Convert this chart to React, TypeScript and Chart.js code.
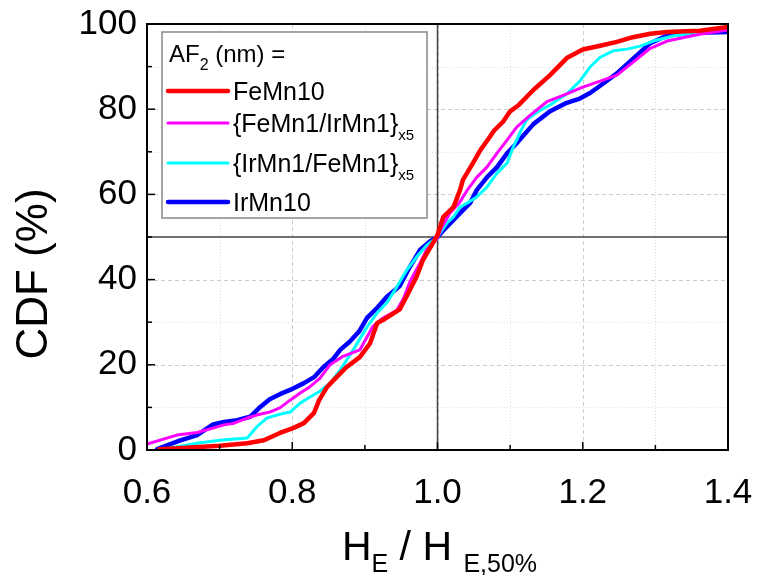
import React, { useEffect, useRef } from 'react';
import { Chart, registerables } from 'chart.js';

Chart.register(...registerables);

// ---------- data ----------
const seriesLabels = ['FeMn10', '{FeMn1/IrMn1}', '{IrMn1/FeMn1}', 'IrMn10'];
const seriesSubs = ['', 'x5', 'x5', ''];
const seriesColors = ['#ff0000', '#ff00ff', '#00ffff', '#0000ff'];
const seriesWidths = [4.5, 3, 3, 4.5];

const feMn10X = [0.617, 0.66, 0.70, 0.738, 0.761, 0.783, 0.802, 0.816, 0.830, 0.837, 0.848, 0.857, 0.875, 0.893, 0.907, 0.917, 0.925, 0.934, 0.948, 0.957, 0.971, 0.980, 0.990, 1.000, 1.008, 1.022, 1.031, 1.035, 1.049, 1.059, 1.070, 1.078, 1.090, 1.100, 1.112, 1.132, 1.155, 1.178, 1.200, 1.224, 1.247, 1.269, 1.293, 1.316, 1.361, 1.400];
const feMn10Y = [0.2, 0.6, 1.0, 1.6, 2.3, 4.0, 5.2, 6.3, 8.7, 11.7, 14.8, 16.4, 19.5, 21.8, 25.0, 29.8, 30.5, 31.5, 33.0, 35.9, 40.6, 44.6, 47.5, 50.5, 54.7, 57.0, 61.0, 63.4, 67.4, 70.4, 73.0, 75.0, 77.0, 79.5, 81.0, 84.5, 88.0, 92.0, 94.0, 94.9, 95.8, 96.9, 97.7, 98.1, 98.4, 99.3];

const feIrX = [0.600, 0.641, 0.669, 0.692, 0.706, 0.720, 0.738, 0.751, 0.769, 0.783, 0.797, 0.811, 0.824, 0.838, 0.852, 0.870, 0.893, 0.903, 0.911, 0.925, 0.944, 0.953, 0.962, 0.976, 0.985, 0.999, 1.006, 1.017, 1.030, 1.041, 1.054, 1.068, 1.082, 1.096, 1.109, 1.127, 1.151, 1.178, 1.200, 1.224, 1.247, 1.269, 1.293, 1.316, 1.361, 1.400];
const feIrY = [1.4, 3.5, 4.1, 5.2, 5.9, 6.3, 7.5, 8.2, 8.9, 9.9, 11.7, 13.4, 14.8, 16.8, 20.0, 22.0, 23.5, 26.5, 29.0, 31.0, 32.8, 35.5, 39.5, 43.9, 47.0, 49.5, 52.3, 55.6, 58.0, 61.0, 64.0, 66.4, 69.7, 72.8, 75.8, 78.5, 81.8, 83.6, 85.2, 86.6, 88.0, 91.0, 94.3, 96.0, 97.6, 98.6];

const irFeX = [0.623, 0.669, 0.700, 0.738, 0.751, 0.765, 0.783, 0.797, 0.811, 0.824, 0.838, 0.852, 0.866, 0.884, 0.903, 0.917, 0.930, 0.944, 0.958, 0.971, 0.985, 1.000, 1.013, 1.022, 1.031, 1.041, 1.054, 1.068, 1.082, 1.096, 1.104, 1.115, 1.123, 1.137, 1.155, 1.178, 1.196, 1.210, 1.224, 1.242, 1.261, 1.279, 1.297, 1.324, 1.361, 1.400];
const irFeY = [0.2, 1.6, 2.3, 2.8, 5.4, 7.5, 8.4, 8.9, 11.0, 12.4, 13.8, 15.7, 18.8, 23.5, 28.9, 32.2, 34.5, 38.3, 42.3, 45.3, 48.0, 50.0, 53.3, 54.7, 57.0, 58.0, 59.4, 61.7, 65.0, 67.4, 71.0, 75.0, 77.5, 79.3, 81.0, 83.6, 86.6, 89.9, 92.2, 93.7, 94.1, 94.8, 96.0, 97.2, 98.1, 99.5];

const irMn10X = [0.614, 0.645, 0.669, 0.691, 0.706, 0.724, 0.742, 0.756, 0.769, 0.783, 0.797, 0.816, 0.830, 0.843, 0.857, 0.866, 0.879, 0.892, 0.903, 0.917, 0.930, 0.948, 0.962, 0.976, 0.990, 1.000, 1.008, 1.018, 1.031, 1.045, 1.054, 1.068, 1.082, 1.096, 1.109, 1.132, 1.155, 1.178, 1.196, 1.210, 1.224, 1.247, 1.269, 1.293, 1.316, 1.348, 1.400];
const irMn10Y = [0.2, 2.2, 3.5, 6.0, 6.6, 7.0, 7.8, 10.1, 11.9, 13.1, 14.1, 15.7, 17.1, 19.5, 21.5, 23.5, 25.4, 27.8, 31.0, 33.4, 35.9, 38.5, 43.0, 47.0, 49.0, 50.0, 51.5, 53.3, 55.6, 58.0, 61.0, 64.0, 66.4, 69.7, 72.0, 76.5, 79.5, 81.5, 82.5, 83.8, 85.5, 88.4, 91.8, 95.5, 97.3, 97.9, 98.1];

const seriesX = [feMn10X, feIrX, irFeX, irMn10X];
const seriesY = [feMn10Y, feIrY, irFeY, irMn10Y];

const xMajorTicks = [0.6, 0.8, 1.0, 1.2, 1.4];
const xMinorTicks = [0.7, 0.9, 1.1, 1.3];
const yMajorTicks = [0, 20, 40, 60, 80, 100];
const yMinorTicks = [10, 30, 50, 70, 90];
const refX = 1.0;
const refY = 50;

const FONT = '"Liberation Sans", Arial, Helvetica, sans-serif';

function drawSubText(ctx: CanvasRenderingContext2D, x: number, y: number, parts: { t: string; size: number; dy: number }[]) {
  let cx = x;
  for (const p of parts) {
    ctx.font = `${p.size}px ${FONT}`;
    ctx.fillText(p.t, cx, y + p.dy);
    cx += ctx.measureText(p.t).width;
  }
  return cx;
}

function measureParts(ctx: CanvasRenderingContext2D, parts: { t: string; size: number; dy: number }[]) {
  let w = 0;
  for (const p of parts) {
    ctx.font = `${p.size}px ${FONT}`;
    w += ctx.measureText(p.t).width;
  }
  return w;
}

const decorPlugin = {
  id: 'decor',
  beforeDatasetsDraw(chart: any) {
    const { ctx, chartArea: a, scales } = chart;
    const xs = scales.x;
    const ys = scales.y;
    ctx.save();
    ctx.lineWidth = 1;
    ctx.strokeStyle = '#dddddd';
    ctx.setLineDash([1, 2]);
    for (const v of xMinorTicks) {
      const px = Math.round(xs.getPixelForValue(v)) + 0.5;
      ctx.beginPath(); ctx.moveTo(px, a.top); ctx.lineTo(px, a.bottom); ctx.stroke();
    }
    for (const v of yMinorTicks) {
      const py = Math.round(ys.getPixelForValue(v)) + 0.5;
      ctx.beginPath(); ctx.moveTo(a.left, py); ctx.lineTo(a.right, py); ctx.stroke();
    }
    ctx.strokeStyle = '#cccccc';
    ctx.setLineDash([4, 3]);
    for (const v of xMajorTicks) {
      const px = Math.round(xs.getPixelForValue(v)) + 0.5;
      ctx.beginPath(); ctx.moveTo(px, a.top); ctx.lineTo(px, a.bottom); ctx.stroke();
    }
    for (const v of yMajorTicks) {
      const py = Math.round(ys.getPixelForValue(v)) + 0.5;
      ctx.beginPath(); ctx.moveTo(a.left, py); ctx.lineTo(a.right, py); ctx.stroke();
    }
    ctx.setLineDash([]);
    ctx.strokeStyle = '#444444';
    ctx.lineWidth = 1.5;
    const rx = xs.getPixelForValue(refX);
    const ry = ys.getPixelForValue(refY);
    ctx.beginPath(); ctx.moveTo(rx, a.top); ctx.lineTo(rx, a.bottom); ctx.stroke();
    ctx.beginPath(); ctx.moveTo(a.left, ry); ctx.lineTo(a.right, ry); ctx.stroke();
    ctx.restore();
  },
  afterDatasetsDraw(chart: any) {
    const { ctx, chartArea: a, scales } = chart;
    const xs = scales.x;
    const ys = scales.y;
    ctx.save();
    ctx.strokeStyle = '#000';
    ctx.lineWidth = 2;
    ctx.strokeRect(a.left, a.top, a.right - a.left, a.bottom - a.top);
    ctx.lineWidth = 1.5;
    for (const v of xMajorTicks) {
      const px = xs.getPixelForValue(v);
      ctx.beginPath(); ctx.moveTo(px, a.bottom); ctx.lineTo(px, a.bottom - 8); ctx.stroke();
    }
    for (const v of xMinorTicks) {
      const px = xs.getPixelForValue(v);
      ctx.beginPath(); ctx.moveTo(px, a.bottom); ctx.lineTo(px, a.bottom - 5); ctx.stroke();
    }
    for (const v of yMajorTicks) {
      const py = ys.getPixelForValue(v);
      ctx.beginPath(); ctx.moveTo(a.left, py); ctx.lineTo(a.left + 8, py); ctx.stroke();
    }
    for (const v of yMinorTicks) {
      const py = ys.getPixelForValue(v);
      ctx.beginPath(); ctx.moveTo(a.left, py); ctx.lineTo(a.left + 5, py); ctx.stroke();
    }

    // legend
    const lx = a.left + 15, ly = a.top + 8, lw = 265, lh = 186;
    ctx.fillStyle = '#ffffff';
    ctx.fillRect(lx, ly, lw, lh);
    ctx.strokeStyle = '#888888';
    ctx.lineWidth = 1.5;
    ctx.strokeRect(lx, ly, lw, lh);
    ctx.fillStyle = '#000';
    ctx.textBaseline = 'alphabetic';
    ctx.textAlign = 'left';
    drawSubText(ctx, lx + 7, ly + 30, [
      { t: 'AF', size: 24, dy: 0 },
      { t: '2', size: 16, dy: 8 },
      { t: ' (nm) =', size: 24, dy: 0 },
    ]);
    const rowLines = [59, 91, 131, 170];
    for (let i = 0; i < seriesLabels.length; i++) {
      const yy = ly + rowLines[i];
      ctx.strokeStyle = seriesColors[i];
      ctx.lineWidth = seriesWidths[i];
      ctx.lineCap = 'round';
      ctx.beginPath(); ctx.moveTo(lx + 6, yy); ctx.lineTo(lx + 66, yy); ctx.stroke();
      ctx.fillStyle = '#000';
      const parts = [{ t: seriesLabels[i], size: 25, dy: 0 }];
      if (seriesSubs[i]) parts.push({ t: seriesSubs[i], size: 15, dy: 8 });
      drawSubText(ctx, lx + 71, yy + 9, parts);
    }

    // x title
    ctx.fillStyle = '#000';
    const xParts = [
      { t: 'H', size: 41, dy: 0 },
      { t: 'E', size: 25, dy: 12 },
      { t: ' / H ', size: 41, dy: 0 },
      { t: 'E,50%', size: 25, dy: 12 },
    ];
    const tw = measureParts(ctx, xParts);
    const cx = (a.left + a.right) / 2 + 2;
    drawSubText(ctx, cx - tw / 2, 560, xParts);

    // y title
    ctx.save();
    ctx.translate(47, (a.top + a.bottom) / 2 + 37);
    ctx.rotate(-Math.PI / 2);
    ctx.font = `44px ${FONT}`;
    ctx.textAlign = 'center';
    ctx.textBaseline = 'alphabetic';
    ctx.fillText('CDF (%)', 0, 0);
    ctx.restore();

    ctx.restore();
  },
};

export default function App() {
  const ref = useRef<HTMLCanvasElement | null>(null);
  useEffect(() => {
    if (!ref.current) return;
    const datasets = seriesLabels.map((label, i) => ({
      label,
      data: seriesX[i].map((xv, j) => ({ x: xv, y: seriesY[i][j] })),
      borderColor: seriesColors[i],
      backgroundColor: seriesColors[i],
      borderWidth: seriesWidths[i],
      pointRadius: 0,
      tension: 0,
      fill: false,
      borderJoinStyle: 'round' as const,
      borderCapStyle: 'round' as const,
    }));
    const chart = new Chart(ref.current, {
      type: 'line',
      data: { datasets },
      options: {
        animation: false,
        responsive: false,
        maintainAspectRatio: false,
        layout: { padding: { top: 24, right: 29, left: 0, bottom: 0 } },
        plugins: { legend: { display: false }, tooltip: { enabled: false } },
        scales: {
          x: {
            type: 'linear',
            min: 0.6,
            max: 1.4,
            grid: { display: false, drawTicks: false },
            border: { display: false },
            afterFit: (s: any) => { s.height = 125; s.paddingLeft = 0; s.paddingRight = 0; },
            afterBuildTicks: (s: any) => { s.ticks = xMajorTicks.map((v) => ({ value: v })); },
            ticks: {
              padding: 22,
              color: '#000',
              font: { family: FONT, size: 35 },
              callback: (v: any) => Number(v).toFixed(1),
              maxRotation: 0,
              autoSkip: false,
            },
          },
          y: {
            type: 'linear',
            min: 0,
            max: 100,
            grid: { display: false, drawTicks: false },
            border: { display: false },
            afterFit: (s: any) => { s.width = 147; s.paddingTop = 0; s.paddingBottom = 0; },
            afterBuildTicks: (s: any) => { s.ticks = yMajorTicks.map((v) => ({ value: v })); },
            ticks: {
              padding: 10,
              color: '#000',
              font: { family: FONT, size: 35 },
              callback: (v: any) => String(v),
            },
          },
        },
      },
      plugins: [decorPlugin],
    });
    return () => chart.destroy();
  }, []);
  return (
    <div style={{ position: 'absolute', left: 0, top: 0, width: 757, height: 575, background: '#fff' }}>
      <canvas ref={ref} width={757} height={575} />
    </div>
  );
}
